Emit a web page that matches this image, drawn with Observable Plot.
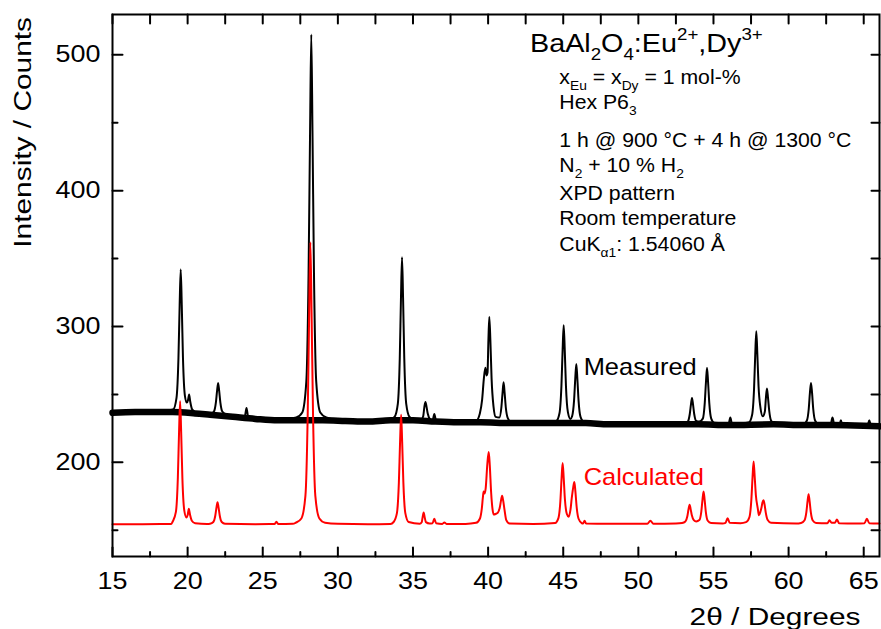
<!DOCTYPE html>
<html><head><meta charset="utf-8">
<script src="https://cdn.jsdelivr.net/npm/d3@7"></script>
<script src="https://cdn.jsdelivr.net/npm/@observablehq/plot@0.6"></script>
<style>html,body{margin:0;padding:0;background:#fff;}</style>
</head><body><div id="chart"></div>
<script>
// ---- data (2theta in degrees, intensity in counts) ----
const measuredBackground = [[15,236.5],[16.5,237],[18,237],[19,237],[20.5,236],[21.5,235],[23,233.5],[24.5,232],[26,231],[27.5,231],[29,231],[30.5,230.5],[32,230],[33.5,231],[35,231],[36.5,230],[38,229.5],[39.5,229.5],[41.5,229],[43.5,229],[46.5,229],[48,228],[50,228],[52,228],[54,228],[56,227.5],[59,228],[61,227.5],[63,227.5],[65,227],[66.05,226.5]];

const measured = [[15,236.5],[16.5,237],[18,237],
[19.04,239],[19.26,247.5],[19.39,277],[19.47,316],[19.54,342],[19.61,316],[19.69,277],[19.82,249],[19.95,244],[20.03,246],[20.1,250],[20.17,245],[20.3,239],[20.6,236.5],
[21.53,235.5],[21.75,237.4],[21.88,244],[21.96,252.6],[22.03,258.5],[22.1,252.6],[22.18,244],[22.31,237.4],[22.53,235.5],
[23.3,233.5],[23.8,233.5],[23.92,240],[24.04,233],[25,232],[26,231],
[27.23,233],[27.63,236.7],[27.9,259.4],[28.05,339],[28.15,444],[28.23,515],[28.31,444],[28.41,339],[28.56,259.4],[28.83,236.7],[29.23,233],
[30.5,230.5],[32,230],[33.3,230.5],
[33.77,233.4],[33.99,243],[34.12,276.6],[34.2,321],[34.27,351],[34.34,321],[34.42,276.6],[34.55,243],[34.77,233.4],
[35.2,231],[35.55,231.5],[35.68,234],[35.76,241],[35.83,244.5],[35.9,241],[35.98,236],[36.15,231.5],[36.3,230.5],[36.42,235.6],[36.54,230.5],
[38,229.5],[39.2,230.5],[39.45,236],[39.6,246],[39.72,262],[39.82,269.6],[39.9,264],[39.96,266],[40.02,290],[40.08,307],[40.15,290],[40.23,262],[40.36,241],[40.5,233.5],
[40.75,233],[40.88,240.2],[40.96,251],[41.03,259],[41.1,251],[41.18,240.2],[41.31,232.5],[41.53,229.6],
[43.5,229],[44.53,230.4],[44.75,236.2],[44.88,256.4],[44.96,283],[45.03,301],[45.1,283],[45.18,256.4],[45.31,237],[45.48,232],
[45.59,234],[45.72,245.5],[45.8,261.5],[45.87,272.5],[45.94,261.5],[46.02,245.5],[46.15,233.5],[46.37,229.9],
[48,228],[50,228],[52,228],
[53.07,228.4],[53.29,229.9],[53.42,235.4],[53.5,242.5],[53.57,247.4],[53.64,242.5],[53.72,235.4],[53.85,230.5],[54.05,230],
[54.29,232.2],[54.42,243.8],[54.5,259.2],[54.57,269.6],[54.64,259.2],[54.72,243.8],[54.85,232.2],[55.07,228.8],
[56,228],[56.12,233],[56.24,228],
[57.35,229.4],[57.57,234.9],[57.7,254],[57.78,279.5],[57.85,296.6],[57.92,279.5],[58,256],[58.13,240],[58.28,234],
[58.42,237.5],[58.49,247.5],[58.56,254.4],[58.63,247.5],[58.71,238],[58.84,230.6],[59.06,228.5],
[60.99,228.1],[61.21,230.6],[61.34,239.3],[61.42,251.3],[61.49,258.5],[61.56,251.3],[61.64,239.3],[61.77,230.6],[61.99,228.1],
[62.8,228],[62.92,233],[63.04,228],[63.38,227.5],[63.48,231],[63.58,227.5],
[65.25,227],[65.37,231],[65.49,227],[66.05,226.5]];

const calculated = [[15,154.5],[17,154.5],[18.9,154.6],
[19.0,156.3],[19.22,163.5],[19.35,188.9],[19.43,222.4],[19.5,245],[19.57,222.4],[19.65,188.9],[19.78,164.5],[19.92,159.5],[20.0,161],[20.08,165.8],[20.16,161.5],[20.28,157],[20.5,155.2],
[21.3,154.6],[21.49,154.8],[21.71,156.1],[21.84,160.7],[21.92,166.7],[21.99,170.7],[22.06,166.7],[22.14,160.7],[22.27,156.1],[22.49,154.8],
[24.5,154.5],[25.78,154.6],[25.91,156.2],[26.04,154.6],[27,154.8],
[27.2,155.6],[27.57,158.7],[27.84,175.3],[27.99,233.4],[28.09,310],[28.17,362],[28.25,310],[28.35,233.4],[28.5,175.3],[28.77,158.7],[29.15,155.6],
[30,154.8],[32,154.5],[33.5,154.7],
[33.71,156.1],[33.93,162.6],[34.06,185.1],[34.14,214.9],[34.21,235],[34.28,214.9],[34.36,185.1],[34.49,162.6],[34.71,156.1],
[35.45,154.8],[35.58,155.9],[35.64,159.5],[35.71,163],[35.78,159.5],[35.86,156],[36.1,155],
[36.3,155.2],[36.42,158.5],[36.54,155.2],[36.95,154.7],[37.09,155.8],[37.23,154.7],
[38.5,154.7],[39.2,155.5],[39.45,158.5],[39.58,166],[39.65,174],[39.7,178.6],[39.76,177],[39.84,181],[39.95,199],[40.04,207.6],[40.11,198],[40.2,178],[40.3,165],[40.37,161.6],[40.5,162],
[40.65,163],[40.78,167],[40.86,172],[40.93,175.4],[41.0,172],[41.08,166],[41.21,157.5],[41.43,155],
[43,154.7],[44.46,155.4],[44.68,159],[44.81,171.6],[44.89,188.3],[44.96,199.5],[45.03,188.8],[45.11,173],[45.24,162],[45.36,160],
[45.48,165],[45.57,174],[45.67,182],[45.74,185.5],[45.81,178.5],[45.89,167.5],[46.02,158.5],[46.24,155.2],
[46.32,155],[46.42,157],[46.52,155],
[48,154.8],[50.6,154.8],[50.8,157],[51,154.8],[52.5,155],
[52.91,155.3],[53.13,156.4],[53.26,160.3],[53.34,165.5],[53.41,168.8],[53.48,165.6],[53.56,161],[53.69,157.5],[53.85,156.5],
[54.06,157.5],[54.19,163.8],[54.27,172.6],[54.34,178.6],[54.41,172.6],[54.49,163.6],[54.62,157],[54.84,155.3],
[55.6,155],[55.8,155.5],[55.94,158.9],[56.08,155.5],[56.8,155.2],
[57.17,156],[57.39,159.6],[57.52,172.4],[57.6,189],[57.67,200.7],[57.74,190],[57.82,176],[57.95,166],[58.02,161],
[58.12,163.5],[58.2,167],[58.26,170.5],[58.33,172.2],[58.4,169],[58.48,163],[58.61,157.5],[58.83,155.5],
[60.5,155],[60.83,155.4],[61.05,157.2],[61.18,163.2],[61.26,171.2],[61.33,176.6],[61.4,171.2],[61.48,163.2],[61.61,157.2],[61.83,155.4],
[62.58,155.1],[62.72,157.3],[62.86,155.6],[63.08,155.6],[63.22,158],[63.36,155.2],
[64.5,155],[65.05,155.2],[65.21,158.5],[65.37,155.2],[66.05,155]];

const xMajorTicks = [15,20,25,30,35,40,45,50,55,60,65];
const xMinorTicks = [17.5,22.5,27.5,32.5,37.5,42.5,47.5,52.5,57.5,62.5];
const yMajorTicks = [200,300,400,500];
const yMinorTicks = [150,250,350,450];

const seriesLabels = [
  {text: "Measured", x: 46.36, y: 264.5, color: "#000000"},
  {text: "Calculated", x: 46.36, y: 183.2, color: "#ff0000"}
];
const xTitle = "2θ / Degrees";
const yTitle = "Intensity / Counts";
const titleSegments = [["BaAl"],["2","sub"],["O"],["4","sub"],[":Eu"],["2+","sup"],[",Dy"],["3+","sup"]];
const infoLines = [
  [["x"],["Eu","sub"],[" = x"],["Dy","sub"],[" = 1 mol-%"]],
  [["Hex P6"],["3","sub"]],
  [["1 h @ 900 °C + 4 h @ 1300 °C"]],
  [["N"],["2","sub"],[" + 10 % H"],["2","sub"]],
  [["XPD pattern"]],
  [["Room temperature"]],
  [["CuK"],["α1","sub"],[": 1.54060 Å"]]
];

// ---- chart ----
const FONT = "'Liberation Sans', Arial, Helvetica, sans-serif";
// inward tick: a straight stroke from the frame towards the plot
const tickShape = {draw(context, l) { context.moveTo(0, 0); context.lineTo(0, -l); }};
const ticksOn = (values, side, len) => {
  const horiz = side === "bottom" || side === "top";
  const rotate = {bottom: 0, top: 180, left: 90, right: -90}[side];
  return Plot.vector(values, {
    ...(horiz ? {x: d => d} : {y: d => d}),
    frameAnchor: side, length: len, rotate, anchor: "start",
    shape: tickShape, stroke: "#000", strokeWidth: 2
  });
};
const plot = Plot.plot({
  width: 881, height: 629,
  marginLeft: 112, marginRight: 2, marginTop: 14, marginBottom: 73,
  style: {fontFamily: FONT, background: "#ffffff", color: "#000"},
  x: {domain: [15, 66.05], label: null},
  y: {domain: [130.7, 529.7], label: null},
  marks: [
    Plot.line(measuredBackground, {x: d => d[0], y: d => d[1], stroke: "#000", strokeWidth: 6.5, strokeLinejoin: "round", curve: "monotone-x"}),
    Plot.line(measured, {x: d => d[0], y: d => d[1], stroke: "#000", strokeWidth: 2, curve: "monotone-x"}),
    Plot.line(calculated, {x: d => d[0], y: d => d[1], stroke: "#ff0000", strokeWidth: 2, curve: "monotone-x"}),
    Plot.text(seriesLabels, {x: "x", y: "y", text: "text", fill: "color", textAnchor: "start", lineAnchor: "bottom", fontSize: 24}),
    Plot.axisX({ticks: xMajorTicks, tickSize: 0, tickPadding: 16, fontSize: 23, label: null}),
    Plot.axisY({ticks: yMajorTicks, tickSize: 0, tickPadding: 12, fontSize: 23, label: null}),
    ticksOn(xMajorTicks, "bottom", 9),
    ticksOn(xMinorTicks, "bottom", 4.5),
    ticksOn(xMajorTicks.concat(xMinorTicks), "top", 9),
    ticksOn(yMajorTicks, "left", 10),
    ticksOn(yMinorTicks, "left", 5),
    ticksOn(yMajorTicks.concat(yMinorTicks), "right", 8),
    Plot.frame({stroke: "#000", strokeWidth: 2})
  ]
});
document.getElementById("chart").append(plot);

// widen glyphs along the text direction to match the reference lettering
function stretch(el, s) {
  const num = v => (v == null || /em/.test(v)) ? 0 : (parseFloat(v) || 0);
  const x = num(el.getAttribute("x")), y = num(el.getAttribute("y"));
  const t = el.getAttribute("transform") || "";
  el.setAttribute("transform", `${t} translate(${x},${y}) scale(${s},1) translate(${-x},${-y})`);
}
const svg = d3.select(plot);
svg.selectAll('g[aria-label="x-axis tick label"] text').each(function() { if (this.textContent) stretch(this, 1.17); });
svg.selectAll('g[aria-label="y-axis tick label"] text').each(function() { if (this.textContent) stretch(this, 1.17); });
svg.selectAll('g[aria-label="text"] text').each(function() { stretch(this, 1.06); });

function richText(segs, x, y, size, scale, anchor) {
  const t = svg.append("text")
    .attr("transform", `translate(${x},${y}) scale(${scale},1)`)
    .attr("font-family", FONT).attr("font-size", size).attr("fill", "#000")
    .attr("text-anchor", anchor || "start");
  let shift = 0;
  for (const [str, kind] of segs) {
    const target = kind === "sub" ? 0.32 * size : kind === "sup" ? -0.45 * size : 0;
    const ts = t.append("tspan").attr("dy", target - shift).text(str);
    if (kind) ts.attr("font-size", size * 0.65);
    shift = target;
  }
  return t;
}
richText(titleSegments, 530, 51.7, 25, 1.15);
const infoBaselines = [84, 109, 146.7, 171.7, 200, 225, 251];
infoLines.forEach((segs, i) => richText(segs, 559.3, infoBaselines[i], 19.5, 1.09));

svg.append("text").attr("transform", "translate(775,625) scale(1.245,1)")
  .attr("font-family", FONT).attr("font-size", 24).attr("text-anchor", "middle").text(xTitle);
svg.append("text").attr("transform", "translate(30.5,17) rotate(-90) scale(1.245,1)")
  .attr("font-family", FONT).attr("font-size", 24).attr("text-anchor", "end").text(yTitle);
</script>
</body></html>
